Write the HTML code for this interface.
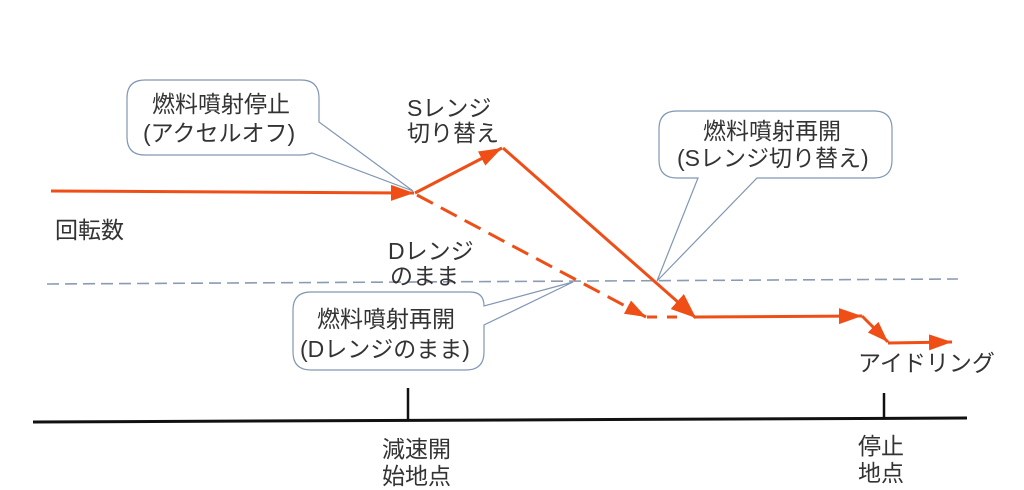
<!DOCTYPE html>
<html>
<head>
<meta charset="utf-8">
<style>
  html, body { margin: 0; padding: 0; background: #ffffff; }
  svg { display: block; }
  text { font-family: "Liberation Sans", "Noto Sans CJK JP", sans-serif; font-size: 23px; fill: #333; }
</style>
</head>
<body>
<svg width="1024" height="490" viewBox="0 0 1024 490" xmlns="http://www.w3.org/2000/svg">
  <defs>
    <marker id="ah" markerUnits="userSpaceOnUse" markerWidth="26" markerHeight="18" refX="23" refY="8" orient="auto">
      <path d="M0,0 L23,8 L0,16 Z" fill="#ef4e17"/>
    </marker>
    <marker id="ahb" markerUnits="userSpaceOnUse" markerWidth="28" markerHeight="22" refX="25" refY="10" orient="auto">
      <path d="M0,0 L25,10 L0,20 Z" fill="#ef4e17"/>
    </marker>
    <marker id="ahs" markerUnits="userSpaceOnUse" markerWidth="24" markerHeight="18" refX="21" refY="7.5" orient="auto">
      <path d="M0,0 L21,7.5 L0,15 Z" fill="#ef4e17"/>
    </marker>
  </defs>

  <rect width="1024" height="490" fill="#ffffff"/>

  <!-- blue-gray dashed reference line -->
  <line x1="47" y1="284" x2="958" y2="279" stroke="#8b9bb4" stroke-width="1.6" stroke-dasharray="12 6"/>

  <!-- axis -->
  <line x1="33" y1="422" x2="967" y2="418" stroke="#111" stroke-width="3"/>
  <line x1="408" y1="388" x2="408" y2="421" stroke="#111" stroke-width="2.5"/>
  <line x1="884" y1="393" x2="884" y2="419" stroke="#111" stroke-width="2.5"/>

  <!-- callout 1 -->
  <path d="M145,80 H301 Q319,80 319,98 V122 L413,191 L312,153 Q306,155 301,155 H145 Q127,155 127,137 V98 Q127,80 145,80 Z"
        fill="#fff" stroke="#8096b4" stroke-width="1.2"/>
  <!-- callout 2 -->
  <path d="M677,111 H874 Q892,111 892,129 V160 Q892,178 874,178 H757 L657,281 L698,178 H677 Q659,178 659,160 V129 Q659,111 677,111 Z"
        fill="#fff" stroke="#8096b4" stroke-width="1.2"/>
  <!-- callout 3 -->
  <path d="M311,292 H470 Q484,292 484,306 L573,282 L484,325 V352 Q484,370 466,370 H311 Q293,370 293,352 V310 Q293,292 311,292 Z"
        fill="#fff" stroke="#8096b4" stroke-width="1.2"/>

  <!-- orange lines -->
  <g stroke="#ef4e17" stroke-width="3" fill="none">
    <line x1="51" y1="191" x2="414" y2="193" marker-end="url(#ah)"/>
    <line x1="415" y1="193" x2="502" y2="148" marker-end="url(#ah)"/>
    <line x1="503" y1="148" x2="696" y2="318" marker-end="url(#ahb)"/>
    <line x1="417" y1="195" x2="646" y2="317" stroke-dasharray="18 9" marker-end="url(#ahs)"/>
    <line x1="647" y1="317" x2="682" y2="317" stroke-dasharray="10 10"/>
    <line x1="696" y1="317" x2="862" y2="316" marker-end="url(#ah)"/>
    <line x1="862" y1="316" x2="888" y2="342" marker-end="url(#ahs)"/>
    <line x1="888" y1="343" x2="952" y2="342" marker-end="url(#ah)"/>
  </g>

  <!-- texts -->
  <text x="152" y="112">燃料噴射停止</text>
  <text x="143" y="141">(アクセルオフ)</text>

  <text x="407" y="116">Sレンジ</text>
  <text x="407" y="141">切り替え</text>

  <text x="55" y="238">回転数</text>

  <text x="388" y="259">Dレンジ</text>
  <text x="390" y="284">のまま</text>

  <text x="317" y="327">燃料噴射再開</text>
  <text x="300" y="357">(Dレンジのまま)</text>

  <text x="703" y="139">燃料噴射再開</text>
  <text x="677" y="166">(Sレンジ切り替え)</text>

  <text x="858" y="371">アイドリング</text>

  <text x="382" y="457">減速開</text>
  <text x="382" y="484">始地点</text>

  <text x="858" y="454">停止</text>
  <text x="858" y="481">地点</text>
</svg>
</body>
</html>
